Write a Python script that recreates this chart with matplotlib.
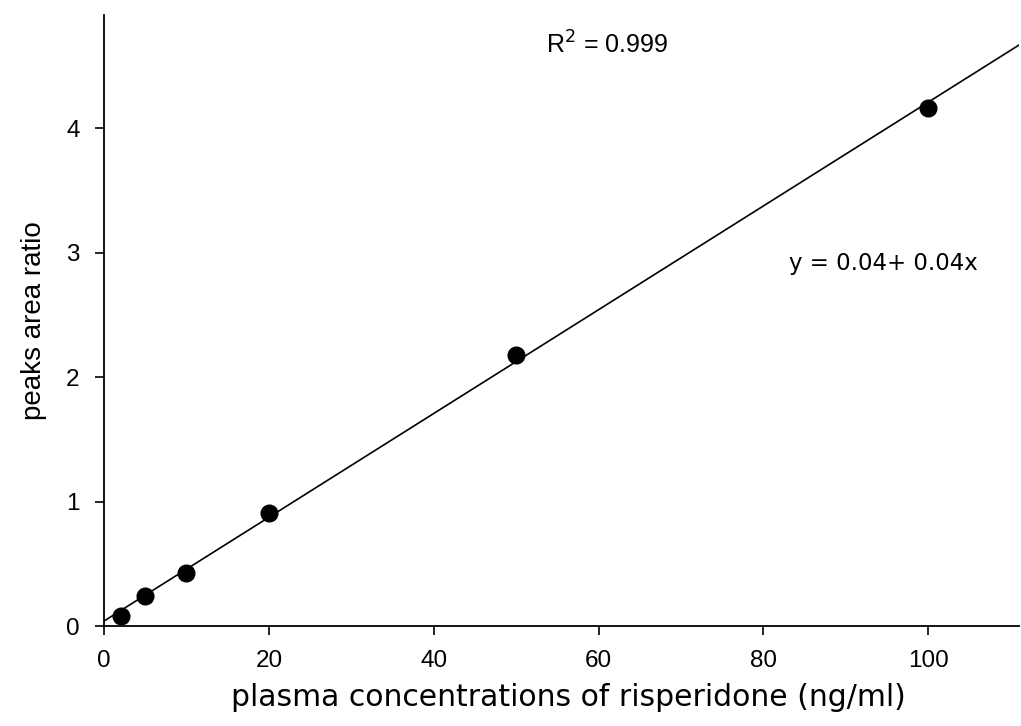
import numpy as np
import matplotlib
matplotlib.use('Agg')
import matplotlib.pyplot as plt

# calibration data
conc = [2, 5, 10, 20, 50, 100]
ratio = [0.08, 0.24, 0.43, 0.91, 2.18, 4.16]

# regression line
intercept = 0.04
slope = 0.0417

plt.rcParams['font.family'] = ['Liberation Sans', 'DejaVu Sans']

fig = plt.figure(figsize=(10.21, 7.26), dpi=100)
ax = fig.add_axes([0.1019, 0.1377, 0.8961, 0.8416])

xs = np.array([0, 111])
ax.plot(xs, intercept + slope * xs, color='black', linewidth=1.2)
ax.plot(conc, ratio, 'o', color='black', markersize=12)

ax.set_xlim(0, 111)
ax.set_ylim(0, 4.91)
ax.set_xticks([0, 20, 40, 60, 80, 100])
ax.set_yticks([0, 1, 2, 3, 4])
ax.spines['top'].set_visible(False)
ax.spines['right'].set_visible(False)
for s in ['left', 'bottom']:
    ax.spines[s].set_linewidth(1.3)
ax.tick_params(direction='out', length=6.5, width=1.2, labelsize=17.5)
ax.tick_params(axis='x', pad=11)
ax.tick_params(axis='y', pad=11)

# wider face to match the spaced-out label in the original
ax.set_xlabel('plasma concentrations of risperidone (ng/ml)', fontsize=21.5,
              labelpad=8, family='DejaVu Sans')
ax.xaxis.label.set_x(0.507)
ax.set_ylabel('peaks area ratio', fontsize=20, labelpad=14)

ax.text(61, 4.67, r'R$^2$ = 0.999', fontsize=18, ha='center', va='center')
ax.text(94.5, 2.91, 'y = 0.04+ 0.04x', fontsize=16.5, ha='center', va='center',
        family='DejaVu Sans')

fig.savefig('out.png', dpi=100)
